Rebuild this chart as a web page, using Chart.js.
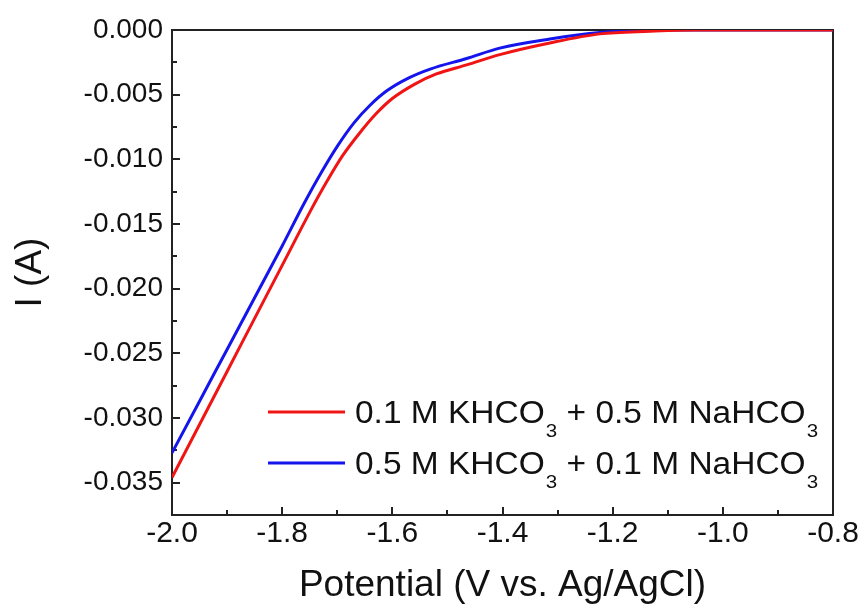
<!DOCTYPE html>
<html>
<head>
<meta charset="utf-8">
<script src="https://cdn.jsdelivr.net/npm/chart.js@4/dist/chart.umd.min.js"></script>
<style>
html,body{margin:0;padding:0;background:#fff;}
#wrap{width:861px;height:612px;}
</style>
</head>
<body>
<div id="wrap"><canvas id="c" width="861" height="612"></canvas></div>
<script>
// ---- data ----
const seriesLabels = ["0.1 M KHCO₃ + 0.5 M NaHCO₃", "0.5 M KHCO₃ + 0.1 M NaHCO₃"];
const seriesColors = ["#f01414", "#1414ec"];

const redPotential = [-2.000,-1.950,-1.900,-1.850,-1.800,-1.750,-1.720,-1.690,-1.660,-1.630,-1.600,-1.560,-1.520,-1.465,-1.405,-1.314,-1.223,-1.132,-1.050,-1.000,-0.900,-0.800];
const redCurrent   = [-0.0346,-0.0305,-0.0264,-0.0223,-0.0182,-0.0141,-0.0118,-0.0097,-0.0080,-0.0065,-0.0053,-0.0042,-0.0034,-0.0027,-0.0019,-0.0010,-0.0003,-0.0001,0,0,0,0];

const bluePotential = [-2.000,-1.950,-1.900,-1.850,-1.800,-1.760,-1.730,-1.700,-1.670,-1.640,-1.610,-1.570,-1.530,-1.465,-1.405,-1.314,-1.223,-1.132,-1.050,-1.000,-0.900,-0.800];
const blueCurrent   = [-0.0327,-0.0287,-0.0247,-0.0207,-0.0167,-0.0134,-0.0111,-0.0090,-0.0072,-0.0058,-0.0047,-0.0037,-0.0030,-0.0022,-0.0014,-0.0007,-0.0002,0,0,0,0,0];

const xTickValues = [-2.0,-1.8,-1.6,-1.4,-1.2,-1.0,-0.8];
const yTickValues = [0,-0.005,-0.010,-0.015,-0.020,-0.025,-0.030,-0.035];
const xTitle = "Potential (V vs. Ag/AgCl)";
const yTitle = "I (A)";

// ---- helpers ----
const FONT = '"Liberation Sans", Arial, Helvetica, sans-serif';
Chart.defaults.font.family = FONT;
Chart.defaults.color = '#000';

function toPoints(xs, ys){ return xs.map((v,i)=>({x:v, y:ys[i]})); }
function midpoints(arr){ const m=[]; for(let i=0;i<arr.length-1;i++) m.push((arr[i]+arr[i+1])/2); return m; }

const framePlugin = {
  id: 'frame',
  beforeDatasetsDraw(chart){
    const {ctx, chartArea:a, scales:{x,y}} = chart;
    ctx.save();
    ctx.strokeStyle = '#222';
    ctx.lineWidth = 2;
    ctx.strokeRect(a.left, a.top, a.right-a.left, a.bottom-a.top);
    ctx.beginPath();
    xTickValues.forEach(v=>{const p=Math.round(x.getPixelForValue(v)); ctx.moveTo(p,a.bottom); ctx.lineTo(p,a.bottom-8);});
    midpoints(xTickValues).forEach(v=>{const p=Math.round(x.getPixelForValue(v)); ctx.moveTo(p,a.bottom); ctx.lineTo(p,a.bottom-5);});
    yTickValues.forEach(v=>{const p=Math.round(y.getPixelForValue(v)); ctx.moveTo(a.left,p); ctx.lineTo(a.left+8,p);});
    midpoints(yTickValues).forEach(v=>{const p=Math.round(y.getPixelForValue(v)); ctx.moveTo(a.left,p); ctx.lineTo(a.left+5,p);});
    ctx.stroke();
    ctx.restore();
  }
};

const legendPlugin = {
  id: 'subLegend',
  afterDatasetsDraw(chart){
    const {ctx, chartArea:a} = chart;
    const lineX0 = a.left + 96, lineX1 = a.left + 173, textX = a.left + 183;
    const rowY0 = 412, rowGap = 51;
    chart.data.datasets.forEach((ds,i)=>{
      const yMid = rowY0 + i*rowGap;
      ctx.save();
      ctx.strokeStyle = ds.borderColor;
      ctx.lineWidth = 3;
      ctx.beginPath(); ctx.moveTo(lineX0,yMid); ctx.lineTo(lineX1,yMid); ctx.stroke();
      ctx.fillStyle = '#111';
      ctx.textBaseline = 'alphabetic';
      ctx.textAlign = 'left';
      const base = yMid + 11;
      ctx.translate(textX, base);
      ctx.scale(1.08, 1);
      let cx = 0, buf = '';
      const flush = ()=>{ if(buf){ ctx.font = '31px ' + FONT; ctx.fillText(buf, cx, 0); cx += ctx.measureText(buf).width; buf=''; } };
      for (const ch of ds.label){
        if (ch === '₃'){
          flush();
          ctx.font = '19px ' + FONT;
          ctx.fillText('3', cx + 1, 14);
          cx += ctx.measureText('3').width + 1;
        } else buf += ch;
      }
      flush();
      ctx.restore();
    });
  }
};

new Chart(document.getElementById('c'), {
  type: 'line',
  data: {
    datasets: [
      { label: seriesLabels[0], data: toPoints(redPotential, redCurrent), borderColor: seriesColors[0], backgroundColor: seriesColors[0], borderWidth: 3, pointRadius: 0, cubicInterpolationMode: 'monotone', fill: false },
      { label: seriesLabels[1], data: toPoints(bluePotential, blueCurrent), borderColor: seriesColors[1], backgroundColor: seriesColors[1], borderWidth: 3, pointRadius: 0, cubicInterpolationMode: 'monotone', fill: false }
    ]
  },
  options: {
    responsive: false,
    animation: false,
    devicePixelRatio: 1,
    layout: { padding: { left: 0, right: 28, top: 30, bottom: 0 } },
    plugins: { legend: { display: false }, tooltip: { enabled: false } },
    scales: {
      x: {
        type: 'linear', min: -2.0, max: -0.8,
        afterBuildTicks: s => { s.ticks = xTickValues.map(v=>({value:v})); },
        afterFit: s => { s.height = 97; },
        grid: { display: false, drawTicks: false },
        border: { display: false },
        ticks: { padding: 1, color: '#111', font: { size: 30 }, callback: v => Number(v).toFixed(1), maxRotation: 0, autoSkip: false },
        title: { display: true, text: xTitle, color: '#111', font: { size: 37 }, padding: { top: 0, bottom: 4 } }
      },
      y: {
        type: 'linear', min: -0.0375, max: 0,
        afterBuildTicks: s => { s.ticks = yTickValues.map(v=>({value:v})); },
        afterFit: s => { s.width = 172; },
        grid: { display: false, drawTicks: false },
        border: { display: false },
        ticks: { padding: 9, color: '#111', font: { size: 28 }, callback: v => Math.abs(v) < 1e-9 ? '0.000' : Number(v).toFixed(3), autoSkip: false },
        title: { display: true, text: yTitle, color: '#111', font: { size: 37 }, padding: { top: 9, bottom: 0 } }
      }
    }
  },
  plugins: [framePlugin, legendPlugin]
});
</script>
</body>
</html>
